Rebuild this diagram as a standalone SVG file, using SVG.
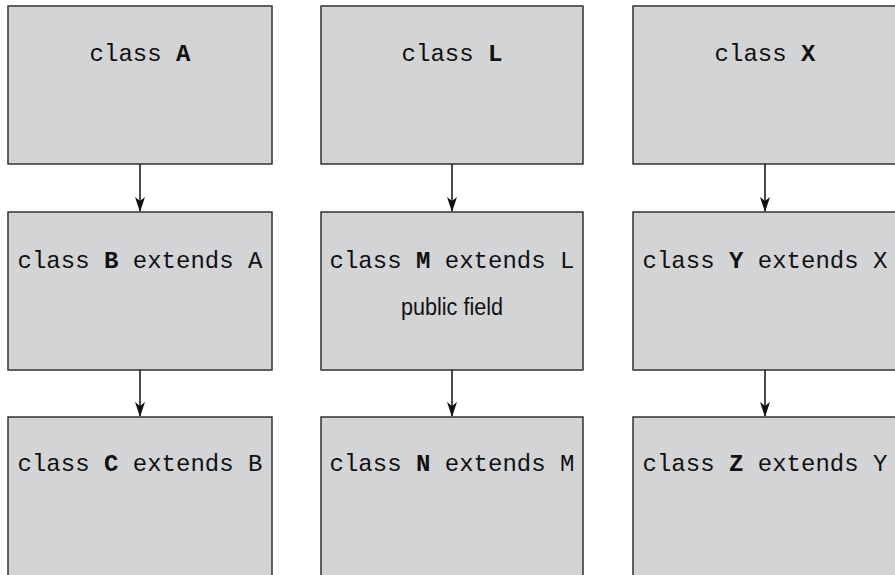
<svg xmlns="http://www.w3.org/2000/svg" width="895" height="575" viewBox="0 0 895 575">
<style>
.box{fill:#d3d4d6;stroke:#333;stroke-width:1.5}
.code{font-family:"Liberation Mono","Courier New",monospace;font-size:24px;fill:#111;text-anchor:middle}
.b{font-weight:bold}
.sans{font-family:"Liberation Sans",Arial,sans-serif;font-size:23px;fill:#111;text-anchor:middle}
.conn{stroke:#111;stroke-width:1.5;fill:none}
.head{fill:#111}
</style>
<rect width="895" height="575" fill="#fff"/>
<g id="A"><rect class="box" x="8" y="6" width="264" height="158"/><text class="code" x="140" y="61">class <tspan class="b">A</tspan></text></g>
<g id="B"><rect class="box" x="8" y="212" width="264" height="158"/><text class="code" x="140" y="268">class <tspan class="b">B</tspan> extends A</text></g>
<g id="C"><rect class="box" x="8" y="417" width="264" height="170"/><text class="code" x="140" y="471">class <tspan class="b">C</tspan> extends B</text></g>
<g id="L"><rect class="box" x="321" y="6" width="262" height="158"/><text class="code" x="452" y="61">class <tspan class="b">L</tspan></text></g>
<g id="M"><rect class="box" x="321" y="212" width="262" height="158"/><text class="code" x="452" y="268">class <tspan class="b">M</tspan> extends L</text><text class="sans" x="452" y="315" textLength="102" lengthAdjust="spacingAndGlyphs">public field</text></g>
<g id="N"><rect class="box" x="321" y="417" width="262" height="170"/><text class="code" x="452" y="471">class <tspan class="b">N</tspan> extends M</text></g>
<g id="X"><rect class="box" x="633" y="6" width="264" height="158"/><text class="code" x="765" y="61">class <tspan class="b">X</tspan></text></g>
<g id="Y"><rect class="box" x="633" y="212" width="264" height="158"/><text class="code" x="765" y="268">class <tspan class="b">Y</tspan> extends X</text></g>
<g id="Z"><rect class="box" x="633" y="417" width="264" height="170"/><text class="code" x="765" y="471">class <tspan class="b">Z</tspan> extends Y</text></g>
<g id="connectors">
<line class="conn" x1="140" y1="164" x2="140" y2="211"/>
<line class="conn" x1="140" y1="370" x2="140" y2="416"/>
<line class="conn" x1="452" y1="164" x2="452" y2="211"/>
<line class="conn" x1="452" y1="370" x2="452" y2="416"/>
<line class="conn" x1="765" y1="164" x2="765" y2="211"/>
<line class="conn" x1="765" y1="370" x2="765" y2="416"/>
<path class="head" d="M135,197 L140,201 L145,197 L140,212 Z"/>
<path class="head" d="M135,402 L140,406 L145,402 L140,417 Z"/>
<path class="head" d="M447,197 L452,201 L457,197 L452,212 Z"/>
<path class="head" d="M447,402 L452,406 L457,402 L452,417 Z"/>
<path class="head" d="M760,197 L765,201 L770,197 L765,212 Z"/>
<path class="head" d="M760,402 L765,406 L770,402 L765,417 Z"/>
</g>
</svg>
